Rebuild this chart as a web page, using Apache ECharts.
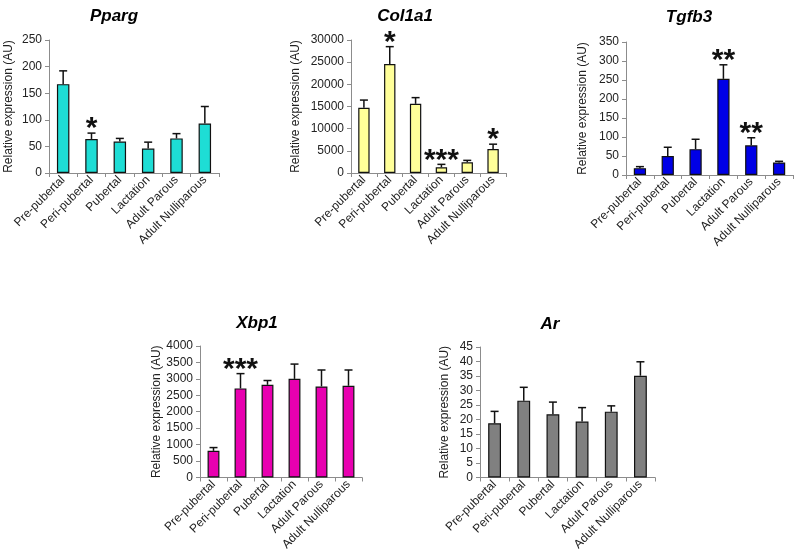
<!DOCTYPE html>
<html>
<head>
<meta charset="utf-8">
<script src="https://cdn.jsdelivr.net/npm/echarts@6/dist/echarts.min.js"></script>
<style>
html,body{margin:0;padding:0;background:#fff;}
#chart{width:798px;height:553px;}
</style>
</head>
<body>
<div id="chart"></div>
<script>
const categories = ['Pre-pubertal', 'Peri-pubertal', 'Pubertal', 'Lactation', 'Adult Parous', 'Adult Nulliparous'];

const ppargValues = [167, 64, 59, 46, 65, 93];
const ppargErr = [25, 11, 6, 12, 9, 32];
const ppargStars = ['', '*', '', '', '', ''];
const ppargTicks = { max: 250, interval: 50 };

const col1a1Values = [14700, 24600, 15600, 1300, 2400, 5400];
const col1a1Err = [1750, 3900, 1400, 650, 450, 1100];
const col1a1Stars = ['', '*', '', '***', '', '*'];
const col1a1Ticks = { max: 30000, interval: 5000 };

const tgfb3Values = [18, 50, 68, 253, 78, 33];
const tgfb3Err = [4, 23, 26, 37, 20, 3];
const tgfb3Stars = ['', '', '', '**', '**', ''];
const tgfb3Ticks = { max: 350, interval: 50 };

const xbp1Values = [810, 2710, 2820, 3000, 2770, 2790];
const xbp1Err = [100, 450, 130, 450, 500, 480];
const xbp1Stars = ['', '***', '', '', '', ''];
const xbp1Ticks = { max: 4000, interval: 500 };

const arValues = [18.7, 26.5, 21.8, 19.3, 22.7, 35.1];
const arErr = [4.1, 4.6, 4.2, 4.8, 2.0, 4.8];
const arStars = ['', '', '', '', '', ''];
const arTicks = { max: 45, interval: 5 };

const panels = [
  { title: 'Pparg', values: ppargValues, err: ppargErr, stars: ppargStars, ticks: ppargTicks, color: '#1EDDD5',
    grid: { left: 49, top: 40, width: 170, height: 133 }, titlePos: [109, 3], nameGap: 34 },
  { title: 'Col1a1', values: col1a1Values, err: col1a1Err, stars: col1a1Stars, ticks: col1a1Ticks, color: '#FFFF99',
    grid: { left: 351, top: 40, width: 155, height: 133 }, titlePos: [400, 3], nameGap: 49 },
  { title: 'Tgfb3', values: tgfb3Values, err: tgfb3Err, stars: tgfb3Stars, ticks: tgfb3Ticks, color: '#0000E6',
    grid: { left: 626, top: 42, width: 167, height: 133 }, titlePos: [684, 4], nameGap: 37 },
  { title: 'Xbp1', values: xbp1Values, err: xbp1Err, stars: xbp1Stars, ticks: xbp1Ticks, color: '#E800B0',
    grid: { left: 200, top: 346, width: 162, height: 133 }, titlePos: [252, 310], nameGap: 35 },
  { title: 'Ar', values: arValues, err: arErr, stars: arStars, ticks: arTicks, color: '#808080',
    grid: { left: 480, top: 347, width: 175, height: 132 }, titlePos: [545, 311], nameGap: 29 }
];

const FONT = 'Liberation Sans, Arial, sans-serif';
const axisColor = '#8c8c8c';

const option = {
  animation: false,
  backgroundColor: '#ffffff',
  title: [],
  grid: [],
  xAxis: [],
  yAxis: [],
  series: []
};

panels.forEach((p, i) => {
  option.title.push({
    text: p.title,
    left: p.titlePos[0],
    top: p.titlePos[1],
    textAlign: 'center',
    textStyle: { fontFamily: FONT, fontSize: 17, fontWeight: 'bold', fontStyle: 'italic', color: '#000' }
  });
  option.grid.push(Object.assign({ containLabel: false }, p.grid));
  option.xAxis.push({
    type: 'category',
    gridIndex: i,
    data: categories,
    axisLine: { lineStyle: { color: axisColor, width: 1 } },
    axisTick: { show: true, length: 4, lineStyle: { color: axisColor } },
    axisLabel: { rotate: 45, interval: 0, fontFamily: FONT, fontSize: 12, color: '#222', margin: 5 },
    splitLine: { show: false }
  });
  option.yAxis.push({
    type: 'value',
    gridIndex: i,
    min: 0,
    max: p.ticks.max,
    interval: p.ticks.interval,
    name: 'Relative expression (AU)',
    nameLocation: 'middle',
    nameGap: p.nameGap,
    nameTextStyle: { fontFamily: FONT, fontSize: 12, color: '#222' },
    axisLine: { show: true, lineStyle: { color: axisColor, width: 1 } },
    axisTick: { show: true, length: 4, lineStyle: { color: axisColor } },
    axisLabel: { fontFamily: FONT, fontSize: 12, color: '#222', margin: 7, formatter: (v) => String(v) },
    splitLine: { show: false }
  });
  option.series.push({
    type: 'bar',
    xAxisIndex: i,
    yAxisIndex: i,
    data: p.values,
    barWidth: '44%',
    itemStyle: { color: p.color, borderColor: '#111', borderWidth: 1.2 }
  });
  option.series.push({
    type: 'custom',
    xAxisIndex: i,
    yAxisIndex: i,
    encode: { x: 0, y: [1, 2] },
    data: p.values.map((v, k) => [k, v, v + p.err[k], p.stars[k]]),
    z: 5,
    renderItem: function (params, api) {
      const idx = api.value(0);
      const base = api.coord([idx, api.value(1)]);
      const top = api.coord([idx, api.value(2)]);
      const star = p.stars[params.dataIndex];
      const cap = 4;
      const children = [
        { type: 'line', shape: { x1: base[0], y1: base[1], x2: top[0], y2: top[1] }, style: { stroke: '#111', lineWidth: 1.5 } },
        { type: 'line', shape: { x1: top[0] - cap, y1: top[1], x2: top[0] + cap, y2: top[1] }, style: { stroke: '#111', lineWidth: 1.5 } }
      ];
      if (star) {
        children.push({
          type: 'text',
          style: {
            text: star,
            x: top[0],
            y: top[1] - 4,
            textAlign: 'center',
            textVerticalAlign: 'middle',
            font: 'bold 30px ' + FONT,
            fill: '#111'
          }
        });
      }
      return { type: 'group', children: children };
    }
  });
});

const chart = echarts.init(document.getElementById('chart'), null, { renderer: 'canvas' });
chart.setOption(option);
</script>
</body>
</html>
